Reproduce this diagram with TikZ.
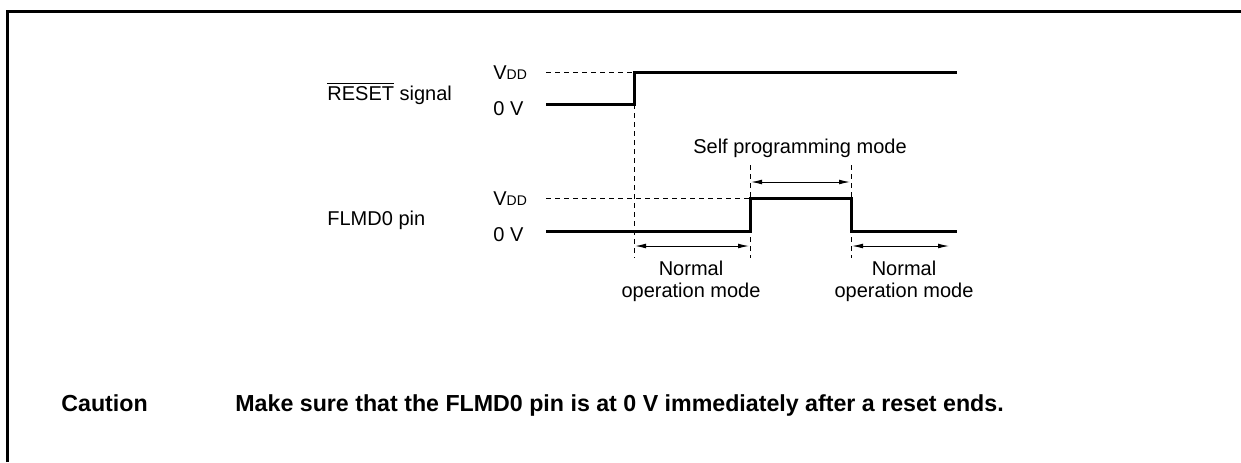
\documentclass[tikz,border=0pt]{standalone}
\usepackage{fontspec}
\setmainfont{Liberation Sans}
\usetikzlibrary{arrows.meta}
\begin{document}
\begin{tikzpicture}[x=0.5pt,y=-0.5pt,
  sig/.style={line width=1.5pt},
  guide/.style={line width=0.5pt,dash pattern=on 2.5pt off 2pt},
  span/.style={line width=0.5pt,{Latex[length=5.5pt,width=2.4pt]}-{Latex[length=5.5pt,width=2.4pt]}},
  lbl/.style={inner sep=0pt,anchor=base west,font=\fontsize{10}{12}\selectfont},
  ctr/.style={inner sep=0pt,anchor=base,font=\fontsize{10}{12}\selectfont},
  frameline/.style={line width=1.6pt},
  bold/.style={inner sep=0pt,anchor=base west,font=\fontsize{11.6}{13}\selectfont\bfseries}]
\useasboundingbox (0,0) rectangle (1241,462);
% frame
\coordinate (fl) at (7.5,462);
\coordinate (ft) at (7.5,11.5);
\coordinate (fr) at (1241,11.5);
\draw[frameline] (fl) -- (ft) -- (fr);
% left labels
\node[lbl] (rst) at (327,100) {$\overline{\mbox{RESET}}$ signal};
\node[lbl] (flm) at (327,225) {FLMD0 pin};
\node[lbl] (v1) at (493,79) {V{\fontsize{7}{8}\selectfont DD}};
\node[lbl] (z1) at (493,115) {0 V};
\node[lbl] (v2) at (493,205) {V{\fontsize{7}{8}\selectfont DD}};
\node[lbl] (z2) at (493,241) {0 V};
% RESET signal
\coordinate (r0) at (546,104);
\coordinate (r1) at (634,104);
\coordinate (r2) at (634,72);
\coordinate (r3) at (957,72);
\coordinate (rv) at (546,72);
\draw[sig] (r0) -- (r1) -- (r2) -- (r3);
\draw[guide] (rv) -- (r2);
% FLMD0 signal
\coordinate (f0) at (546,231);
\coordinate (f1) at (750,231);
\coordinate (f2) at (750,198);
\coordinate (f3) at (851,198);
\coordinate (f4) at (851,231);
\coordinate (f5) at (957,231);
\coordinate (fv) at (546,198);
\draw[sig] (f0) -- (f1) -- (f2) -- (f3) -- (f4) -- (f5);
\draw[guide] (fv) -- (f2);
% vertical guides
\coordinate (g1b) at (634,258);
\coordinate (g2t) at (750,165);
\coordinate (g2b) at (750,258);
\coordinate (g3t) at (851,165);
\coordinate (g3b) at (851,258);
\draw[guide] (r1) -- (g1b);
\draw[guide] (g2t) -- (g2b);
\draw[guide] (g3t) -- (g3b);
% spans
\coordinate (s1a) at (751,182);
\coordinate (s1b) at (850,182);
\coordinate (s2a) at (635,246);
\coordinate (s2b) at (749,246);
\coordinate (s3a) at (852,246);
\coordinate (s3b) at (949,246);
\draw[span] (s1a) -- (s1b);
\draw[span] (s2a) -- (s2b);
\draw[span] (s3a) -- (s3b);
\node[ctr] (spm) at (800,153) {Self programming mode};
\node[ctr] (n1a) at (691,275) {Normal};
\node[ctr] (n1b) at (691,297) {operation mode};
\node[ctr] (n2a) at (904,275) {Normal};
\node[ctr] (n2b) at (904,297) {operation mode};
% caution
\node[bold] (cau) at (61,411) {Caution};
\node[bold] (msg) at (235,411) {Make sure that the FLMD0 pin is at 0 V immediately after a reset ends.};
\end{tikzpicture}
\end{document}
